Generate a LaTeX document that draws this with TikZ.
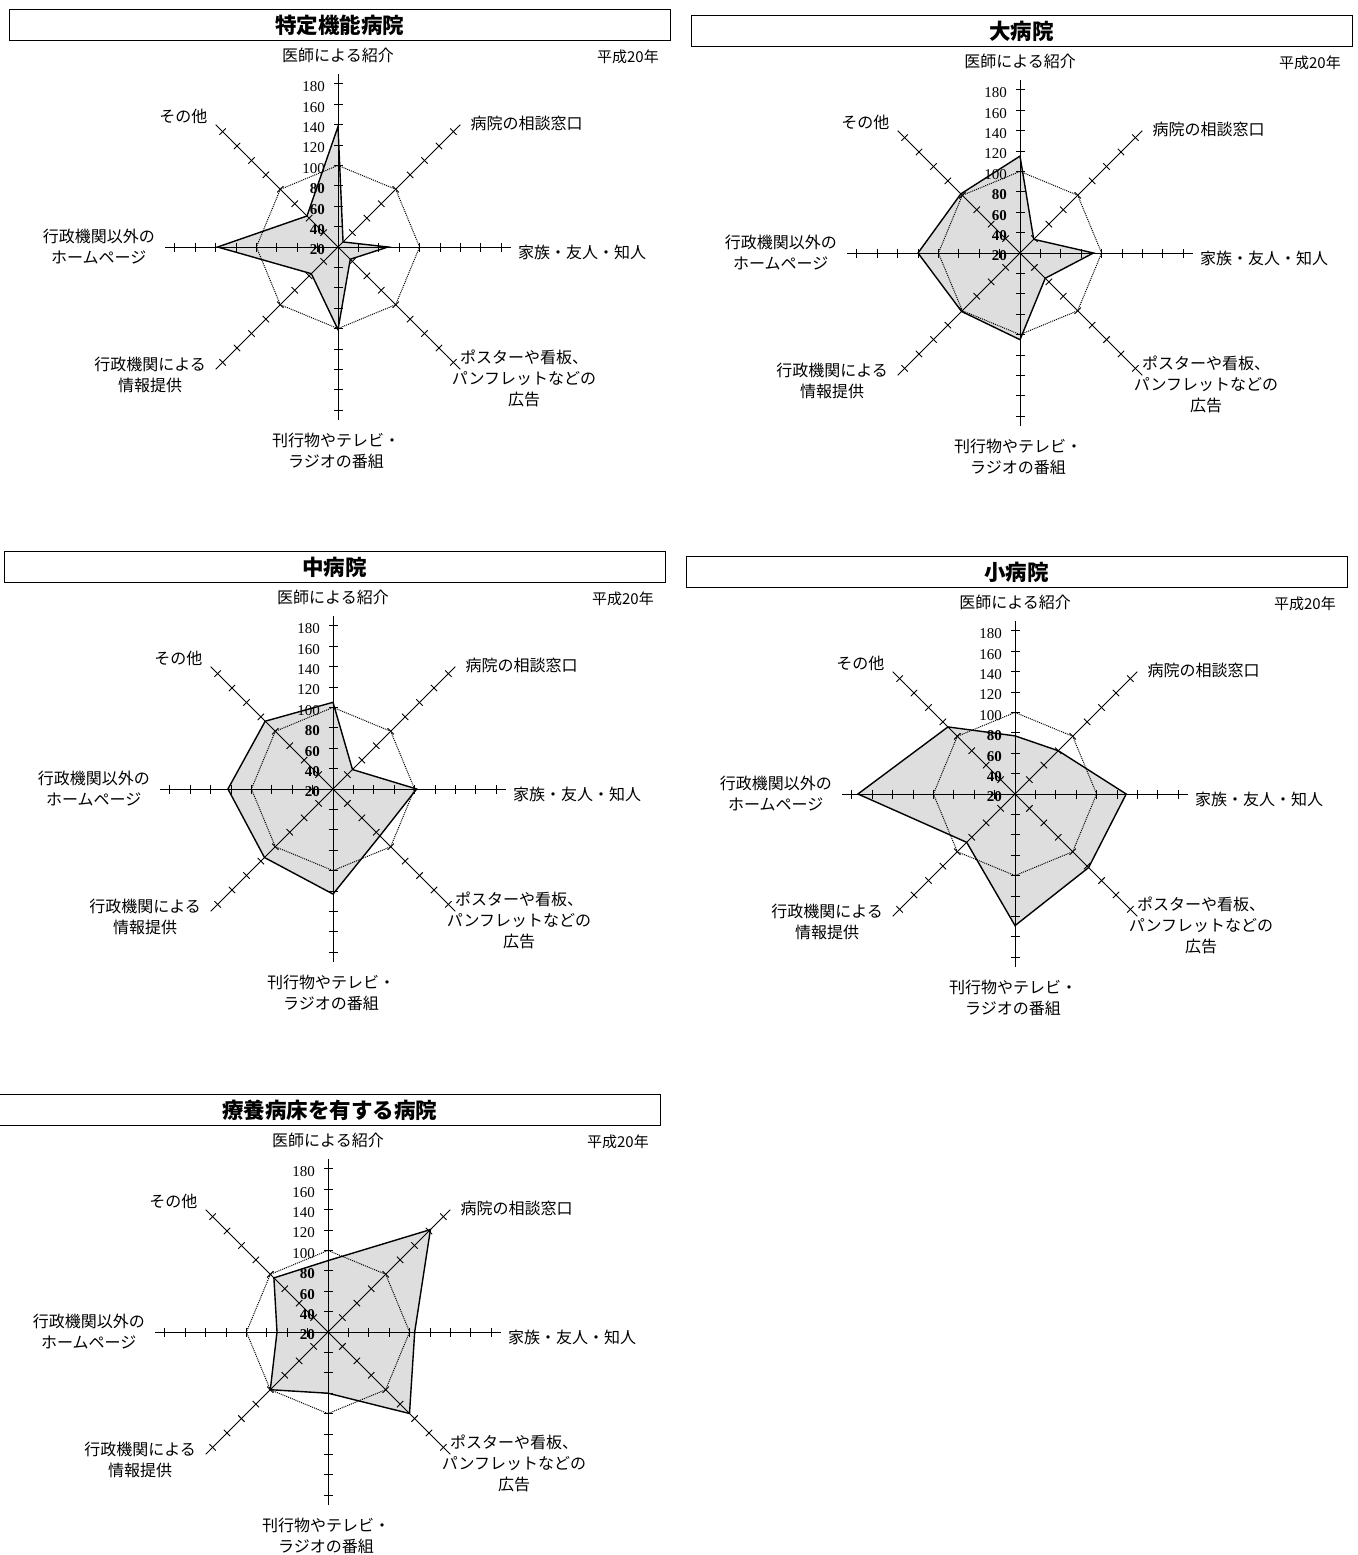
\documentclass[tikz,border=0pt]{standalone}
\usepackage{fontspec}
\setmainfont{Liberation Serif}
\newfontfamily\jp{Noto Sans CJK JP}
\usepackage{tikz}
\usetikzlibrary{calc}
\usetikzlibrary{positioning}

\begin{document}
\begin{tikzpicture}[x=1pt,y=1pt,
    axis/.style={line width=0.9pt},
    tickmark/.style={line width=0.9pt},
    refline/.style={densely dotted,line width=1pt},
    datapoly/.style={line width=1.4pt},
    datafill/.style={fill=black!13},
    lbl/.style={font=\jp\fontsize{16}{21}\selectfont,align=center,inner sep=1pt},
    num/.style={font=\fontsize{15}{15}\selectfont,anchor=east,inner sep=0pt},
    titlebox/.style={draw,line width=0.9pt,minimum width=661pt,minimum height=31pt,
      inner sep=0pt,font=\jp\bfseries\fontsize{21.5}{21.5}\selectfont}]
  \useasboundingbox (0,0) rectangle (1357,-1555);
  \foreach \n/\cx/\cy/\ttl/\vals in {
      a/338/247/{特定機能病院}/{138,27,69,37,101,57,138,63},
      b/1020/253/{大病院}/{115,39,92,55,105,101,120,102},
      c/333/789/{中病院}/{105,47,102,85,123,115,123,114},
      d/1015/794/{小病院}/{77,80,129,122,149,87,174,113},
      e/328/1332/{療養病床を有する病院}/{90,162,105,133,80,100,70,95}}{
    \coordinate (\n) at (\cx,-\cy);
    % data points, reference points, axis ends
    \foreach \v [count=\i from 0] in \vals
      \coordinate (\n-p\i) at ($(\n)+({90-45*\i}:{(\v-20)*1.02})$);
    \foreach \k in {0,...,7}{
      \coordinate (\n-r\k) at ($(\n)+({90-45*\k}:81.6)$);
      \coordinate (\n-e\k) at ($(\n)+({90-45*\k}:173)$);
    }
    \fill[datafill] (\n-p0) -- (\n-p1) -- (\n-p2) -- (\n-p3) -- (\n-p4)
      -- (\n-p5) -- (\n-p6) -- (\n-p7) -- cycle;
    \draw[refline] (\n-r0) -- (\n-r1) -- (\n-r2) -- (\n-r3) -- (\n-r4)
      -- (\n-r5) -- (\n-r6) -- (\n-r7) -- cycle;
    \foreach \k in {0,...,7}{
      \draw[axis] (\n) -- (\n-e\k);
      \foreach \t in {1,...,8}
        \draw[tickmark] ($(\n)+({90-45*\k}:\t*20.4)+({-45*\k}:4.5)$) -- ++({180-45*\k}:9);
    }
    \draw[datapoly] (\n-p0) -- (\n-p1) -- (\n-p2) -- (\n-p3) -- (\n-p4)
      -- (\n-p5) -- (\n-p6) -- (\n-p7) -- cycle;
    % scale
    \foreach \k in {0,...,8}{
      \pgfmathtruncatemacro\val{20+20*\k}
      \node[num] (\n-t\k) at ($(\n)+(-13,\k*20.4-3)$) {\ifnum\k<4\bfseries\fi\val};
    }
    % texts
    \node[titlebox] (\n-title) at ($(\n)+(1.5,222)$) {\ttl};
    \node[lbl] (\n-l0) at ($(\n)+(0,192)$) {医師による紹介};
    \node[lbl,anchor=east,font=\jp\fontsize{15}{15}\selectfont] (\n-year)
      at ($(\n)+(322,190)$) {平成20年};
    \node[lbl,above right=-7pt and 9pt of \n-e1] (\n-l1) {病院の相談窓口};
    \node[lbl,right=6pt of \n-e2,yshift=-5pt] (\n-l2) {家族・友人・知人};
    \node[lbl] (\n-l3) at ($(\n)+(186,-131)$) {ポスターや看板、\\パンフレットなどの\\広告};
    \node[lbl] (\n-l4) at ($(\n)+(-2,-204)$) {刊行物やテレビ・\\ラジオの番組};
    \node[lbl,anchor=east] (\n-l5) at ($(\n)+(-131,-128)$) {行政機関による\\情報提供};
    \node[lbl,left=9pt of \n-e6] (\n-l6) {行政機関以外の\\ホームページ};
    \node[lbl,above left=0pt and 7pt of \n-e7] (\n-l7) {その他};
  }
\end{tikzpicture}
\end{document}
